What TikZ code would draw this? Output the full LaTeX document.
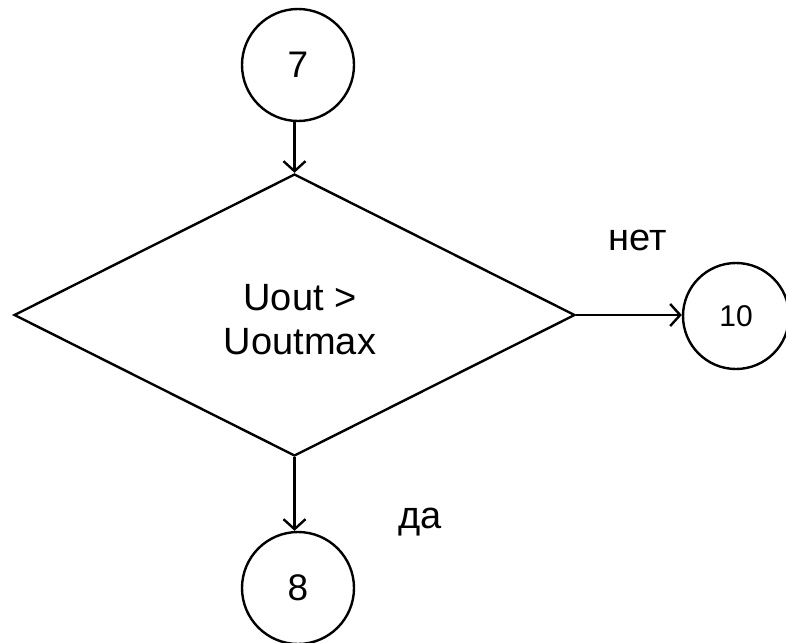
\documentclass[tikz,border=0pt]{standalone}
\usepackage{fontspec}
\setmainfont{Liberation Sans}
\usetikzlibrary{shapes.geometric,arrows.meta}
\begin{document}
\begin{tikzpicture}[x=1pt,y=-1pt,
  line width=2.4pt,
  conn/.style={draw,-{Straight Barb[length=10pt,width=22pt,line width=2.4pt]}},
  term/.style={circle,draw,inner sep=0pt,font=\fontsize{37}{44}\selectfont},
  lbl/.style={font=\fontsize{38}{44}\selectfont,inner sep=0pt}]
\useasboundingbox (0,0) rectangle (786,642);

% connector circles
\node[term,minimum size=112pt] (c7) at (298,65) {7};
\node[term,minimum size=106pt,font=\fontsize{30}{36}\selectfont] (c10) at (736,316) {10};
\node[term,minimum size=112pt] (c8) at (298,588) {8};

% decision
\node[diamond,draw,inner sep=0pt,minimum width=561pt,minimum height=282pt] (dec) at (294.5,315) {};
\node[lbl,align=center] (cond) at (300,320) {Uout >\\Uoutmax};

% branches
\draw[conn] (c7.south -| dec.north) -- (dec.north);
\draw[conn] (dec.east) -- (dec.east -| c10.west);
\draw[conn] (dec.south) -- (c8.north -| dec.south);

\node[lbl] (no) at (638,240) {нет};
\node[lbl] (yes) at (420,522) {да};
\end{tikzpicture}
\end{document}
